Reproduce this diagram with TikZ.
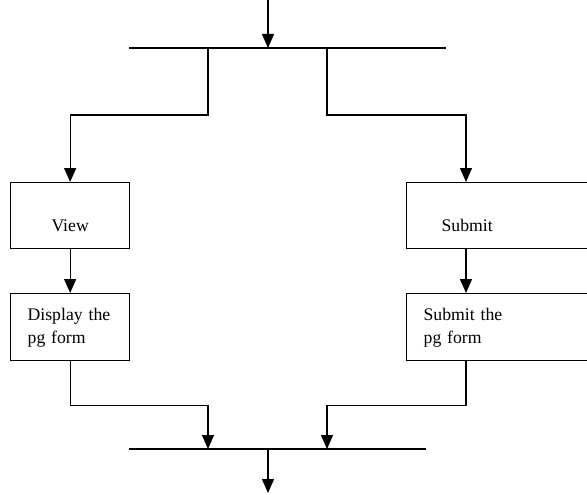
\documentclass[tikz,border=0pt]{standalone}
\usepackage{fontspec}
\setmainfont{Liberation Serif}
\usetikzlibrary{arrows.meta}
\tikzset{
  line/.style={line width=1.3pt},
  arr/.style={line width=1.3pt, -{Triangle[width=12pt,length=14pt]}},
  box/.style={draw, line width=1.3pt, rectangle, anchor=north west,
    inner xsep=17pt, inner ysep=0pt,
    font=\fontsize{17.7pt}{23pt}\selectfont},
}
\begin{document}
\begin{tikzpicture}[x=1pt,y=-1pt]
\useasboundingbox (0,0) rectangle (587,495);
\clip (0,0) rectangle (587,495);
% bars
\coordinate (tbl) at (129,48);
\coordinate (tbr) at (446,48);
\coordinate (tin) at (268,0);
\coordinate (tmid) at (268,48);
\coordinate (tl) at (208,48);
\coordinate (tr) at (327,48);
\coordinate (bbl) at (129,449);
\coordinate (bbr) at (426,449);
\coordinate (bmid) at (268,449);
\coordinate (bout) at (268,493);
\coordinate (bl) at (208,449);
\coordinate (br) at (327,449);
% boxes
\node[box, text width=85pt, align=center, minimum height=66pt] (view) at (10,182) {\strut\\View\strut};
\node[box, text width=85pt, align=left, minimum height=67pt] (disp) at (10,293) {Display the\strut\\pg form\strut};
\node[box, text width=180pt, align=left, minimum height=66pt] (sub) at (406,182) {\strut\\\hspace*{18pt}Submit\strut};
\node[box, text width=180pt, align=left, minimum height=67pt] (subf) at (406,293) {Submit the\strut\\pg form\strut};
% lines
\draw[line] (tbl) -- (tbr);
\draw[line] (bbl) -- (bbr);
\draw[arr] (tin) -- (tmid);
\draw[arr] (tl) -- ++(0,67) -| (view.north);
\draw[arr] (tr) -- ++(0,67) -| ([xshift=60pt]sub.north west);
\draw[arr] (view.south) -- (disp.north);
\draw[arr] ([xshift=60pt]sub.south west) -- ([xshift=60pt]subf.north west);
\draw[arr] (disp.south) -- ++(0,44) -| (bl);
\draw[arr] ([xshift=60pt]subf.south west) -- ++(0,44) -| (br);
\draw[arr] (bmid) -- (bout);
\end{tikzpicture}
\end{document}
